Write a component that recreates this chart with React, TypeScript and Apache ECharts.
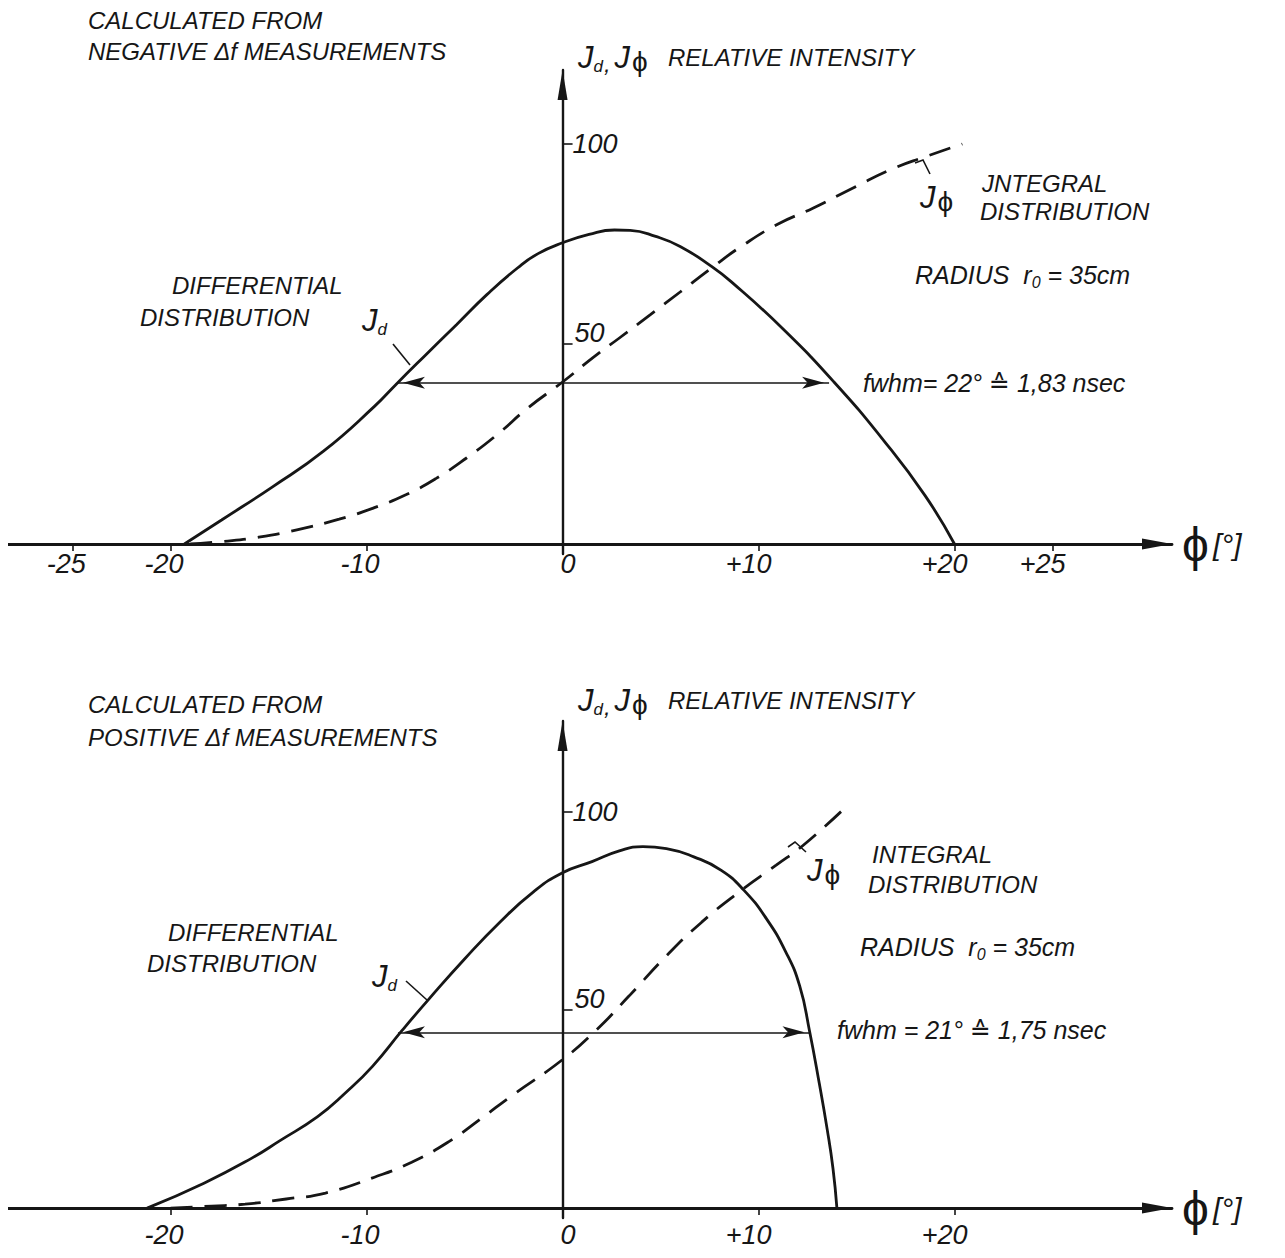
import React, { useEffect, useRef } from 'react';
import * as echarts from 'echarts';

const FONT = "'Liberation Sans', 'DejaVu Sans', sans-serif";
const INK = '#161616';

// Shared φ range (degrees) and the tick values on the intensity axis
const X_MIN = -28.3;
const X_MAX = 31.1;
const yTicks = [50, 100];

// Upper panel: calculated from negative Δf measurements
const negTicksX = [-25, -20, -10, 0, 10, 20, 25];
const negDiffPhi = [-19.3, -17.4, -14.8, -12.2, -9.6, -8.5, -7.0, -5.4, -3.85, -2.3, -1.25, 0, 1.35, 2.65, 3.45, 4.75, 6.0, 7.6, 8.6, 11.2, 13.85, 16.4, 18.5, 20.0];
const negDiffVal = [0, 6.0, 14.3, 23.2, 34.4, 39.9, 47.2, 54.9, 62.4, 69.0, 72.6, 75.3, 77.4, 78.5, 78.4, 76.9, 74.4, 69.4, 65.6, 54.0, 40.5, 25.8, 12.1, 0];
const negIntPhi = [-19.0, -17.4, -15.5, -13.5, -11.4, -9.6, -8.0, -6.45, -4.9, -3.3, -1.8, 0, 1.6, 2.9, 4.5, 6.0, 7.6, 9.15, 11.0, 12.8, 14.9, 16.8, 18.5, 20.4];
const negIntVal = [0, 0.6, 1.7, 3.6, 6.2, 9.1, 12.3, 16.4, 21.5, 27.5, 33.9, 40.5, 46.8, 51.5, 57.4, 63.0, 69.0, 74.5, 80.0, 84.0, 89.2, 93.7, 96.8, 100];
const negFwhm = [-8.4, 13.6]; // 22°
const negHalf = 40.3;
const NEG_Y_MAX = 118.5;

// Lower panel: calculated from positive Δf measurements
const posTicksX = [-20, -10, 0, 10, 20];
const posDiffPhi = [-21.2, -18.3, -15.9, -14.4, -12.5, -11.1, -9.7, -8.2, -6.8, -5.0, -3.2, -1.5, 0, 1.5, 2.9, 4.1, 5.3, 6.7, 8.1, 9.25, 10.4, 11.4, 12.1, 12.6, 13.1, 13.5, 13.8, 14.0];
const posDiffVal = [0, 6.3, 12.5, 17.1, 23.1, 29.0, 35.8, 44.8, 52.9, 62.9, 72.2, 79.8, 84.7, 87.5, 90.2, 91.3, 90.8, 88.7, 85.3, 80.3, 73.1, 64.6, 56.1, 44.8, 31.5, 20.0, 10.0, 0];
const posIntPhi = [-20, -17.9, -16.2, -14.1, -12.1, -9.6, -7.7, -5.8, -4.1, -2.7, 0, 1.75, 3.4, 5.3, 7.1, 9.0, 10.9, 12.3, 14.4];
const posIntVal = [0, 0.5, 1.0, 2.3, 3.8, 7.8, 11.6, 16.8, 22.8, 28.0, 37.5, 45.1, 53.6, 63.7, 72.2, 79.8, 86.6, 91.7, 101];
const posFwhm = [-8.4, 12.6]; // 21°
const posHalf = 44.4;
const POS_Y_MAX = 123;

const Y_MIN = -2.5;

// Plot geometry shared by both panels
const GRID_W = 1164;
// pixel distance from the grid's left edge to φ = 0, where the intensity axis stands
const Y_AXIS_SHIFT = (-X_MIN / (X_MAX - X_MIN)) * GRID_W;

const zip = (xs: number[], ys: number[]) => xs.map((x, i) => [x, ys[i]]);
const signed = (v: number) => (v > 0 ? `+${v}` : `${v}`);

const italic = { fontFamily: FONT, fontStyle: 'italic' as const };

function xAxisFor(gridIndex: number, ticks: number[], margin: number) {
  return {
    type: 'value',
    gridIndex,
    min: X_MIN,
    max: X_MAX,
    axisLine: {
      onZero: true,
      symbol: ['none', 'triangle'],
      symbolSize: [11, 30],
      symbolOffset: [0, -15],
      lineStyle: { color: INK, width: 2.8 },
    },
    axisTick: { show: true, customValues: ticks, length: 7, lineStyle: { color: INK, width: 1.6 } },
    axisLabel: {
      show: true,
      customValues: ticks,
      margin,
      align: 'center',
      formatter: (v: number) => `{n|${signed(v)}}`,
      rich: { n: { ...italic, fontSize: 27, lineHeight: 26, color: INK, width: 26, align: 'right' } },
    },
    splitLine: { show: false },
    name: '{p|ϕ}{b|[°]}',
    nameLocation: 'end',
    nameGap: 10,
    nameTextStyle: {
      rich: {
        p: { fontFamily: FONT, fontSize: 48, color: INK, lineHeight: 54 },
        b: { ...italic, fontSize: 30, color: INK, padding: [0, 0, 0, 4] },
      },
    },
  };
}

function yAxisFor(gridIndex: number, max: number) {
  return {
    type: 'value',
    gridIndex,
    position: 'left',
    offset: -Y_AXIS_SHIFT,
    min: Y_MIN,
    max,
    axisLine: {
      onZero: false,
      symbol: ['none', 'triangle'],
      symbolSize: [10, 30],
      symbolOffset: [0, -15],
      lineStyle: { color: INK, width: 2.4 },
    },
    axisTick: { show: true, customValues: yTicks, inside: true, length: 10, lineStyle: { color: INK, width: 1.6 } },
    axisLabel: {
      show: true,
      customValues: yTicks,
      inside: true,
      margin: 10,
      formatter: (v: number) => (v === 50 ? `{up|${v}}` : `{mid|${v}}`),
      rich: {
        mid: { ...italic, fontSize: 27, color: INK },
        up: { ...italic, fontSize: 27, color: INK, padding: [0, 0, 22, 2] },
      },
    },
    splitLine: { show: false },
  };
}

function fwhmArrow(ends: number[], level: number) {
  const head = { symbol: 'arrow', symbolSize: [9, 22], symbolOffset: [0, 5], itemStyle: { color: INK } };
  return {
    silent: true,
    symbol: ['arrow', 'arrow'],
    symbolSize: [9, 22],
    itemStyle: { color: INK },
    label: { show: false },
    emphasis: { disabled: true },
    lineStyle: { color: INK, width: 1.6, type: 'solid' },
    data: [[{ coord: [ends[0], level], ...head }, { coord: [ends[1], level], ...head }]],
  };
}

function curve(xi: number, data: number[][], dashed: boolean, extra: object = {}) {
  return {
    type: 'line',
    xAxisIndex: xi,
    yAxisIndex: xi,
    data,
    symbol: 'none',
    showSymbol: false,
    smooth: 0.5,
    silent: true,
    lineStyle: { color: INK, width: 2.8, type: dashed ? [22, 12] : 'solid' },
    ...extra,
  };
}

// Text helpers for the annotations
function label(x: number, y: number, text: string, fontSize = 24, rich?: object) {
  return {
    type: 'text',
    x,
    y,
    silent: true,
    style: {
      text,
      fill: INK,
      fontSize,
      ...italic,
      align: 'left',
      verticalAlign: 'middle',
      ...(rich ? { rich } : {}),
    },
  };
}

function leader(points: number[][]) {
  return {
    type: 'polyline',
    silent: true,
    shape: { points },
    style: { stroke: INK, lineWidth: 1.6, fill: null },
  };
}

const jRich = {
  J: { ...italic, fontSize: 31, fill: INK, lineHeight: 36, verticalAlign: 'middle' },
  d: { ...italic, fontSize: 17, fill: INK, lineHeight: 14, verticalAlign: 'bottom' },
  c: { ...italic, fontSize: 24, fill: INK, lineHeight: 16, verticalAlign: 'bottom', padding: [0, 4, 0, 1] },
  p: { fontFamily: FONT, fontSize: 28, fill: INK, lineHeight: 18, verticalAlign: 'bottom', padding: [0, 0, 0, 2] },
};

const radiusRich = {
  a: { ...italic, fontSize: 25, fill: INK, lineHeight: 30, verticalAlign: 'middle' },
  s: { ...italic, fontSize: 16, fill: INK, lineHeight: 14, verticalAlign: 'bottom' },
};

const J_PAIR = '{J|J}{d|d}{c|,}{J|J}{p|ϕ}';
const J_D = '{J|J}{d|d}';
const J_PHI = '{J|J}{p|ϕ}';
const RADIUS = '{a|RADIUS  r}{s|0}{a| = 35cm}';

const graphics = [
  // upper panel
  label(80, 12, 'CALCULATED FROM'),
  label(80, 43, 'NEGATIVE Δf MEASUREMENTS'),
  label(570, 49, J_PAIR, 30, jRich),
  label(660, 49, 'RELATIVE INTENSITY'),
  label(912, 189, J_PHI, 30, jRich),
  label(974, 175, 'JNTEGRAL'),
  label(972, 203, 'DISTRIBUTION'),
  leader([[907, 155], [915, 152], [922, 166]]),
  label(907, 267, RADIUS, 25, radiusRich),
  label(855, 375, 'fwhm= 22° ≙ 1,83 nsec', 25),
  label(164, 277, 'DIFFERENTIAL'),
  label(132, 309, 'DISTRIBUTION'),
  label(354, 312, J_D, 30, jRich),
  leader([[385, 336], [402, 357]]),
  // lower panel
  label(80, 696, 'CALCULATED FROM'),
  label(80, 729, 'POSITIVE Δf MEASUREMENTS'),
  label(570, 692, J_PAIR, 30, jRich),
  label(660, 692, 'RELATIVE INTENSITY'),
  label(799, 862, J_PHI, 30, jRich),
  label(864, 846, 'INTEGRAL'),
  label(860, 876, 'DISTRIBUTION'),
  leader([[780, 839], [787, 834], [798, 844]]),
  label(852, 939, RADIUS, 25, radiusRich),
  label(829, 1022, 'fwhm = 21° ≙ 1,75 nsec', 25),
  label(160, 924, 'DIFFERENTIAL'),
  label(139, 955, 'DISTRIBUTION'),
  label(364, 968, J_D, 30, jRich),
  leader([[398, 973], [419, 992]]),
];

export default function App() {
  const ref = useRef<HTMLDivElement>(null);

  useEffect(() => {
    if (!ref.current) return;
    const chart = echarts.init(ref.current, null, { renderer: 'svg' });
    chart.setOption({
      animation: false,
      backgroundColor: '#ffffff',
      grid: [
        { left: 0, top: 62, width: GRID_W, height: 484, outerBoundsMode: 'none', containLabel: false },
        { left: 0, top: 713, width: GRID_W, height: 497, outerBoundsMode: 'none', containLabel: false },
      ],
      xAxis: [xAxisFor(0, negTicksX, -3), xAxisFor(1, posTicksX, 4)],
      yAxis: [yAxisFor(0, NEG_Y_MAX), yAxisFor(1, POS_Y_MAX)],
      series: [
        curve(0, zip(negDiffPhi, negDiffVal), false, { markLine: fwhmArrow(negFwhm, negHalf) }),
        curve(0, zip(negIntPhi, negIntVal), true),
        curve(1, zip(posDiffPhi, posDiffVal), false, { markLine: fwhmArrow(posFwhm, posHalf) }),
        curve(1, zip(posIntPhi, posIntVal), true),
      ],
      graphic: graphics,
    });
    return () => chart.dispose();
  }, []);

  return <div ref={ref} style={{ width: 1269, height: 1242 }} />;
}
